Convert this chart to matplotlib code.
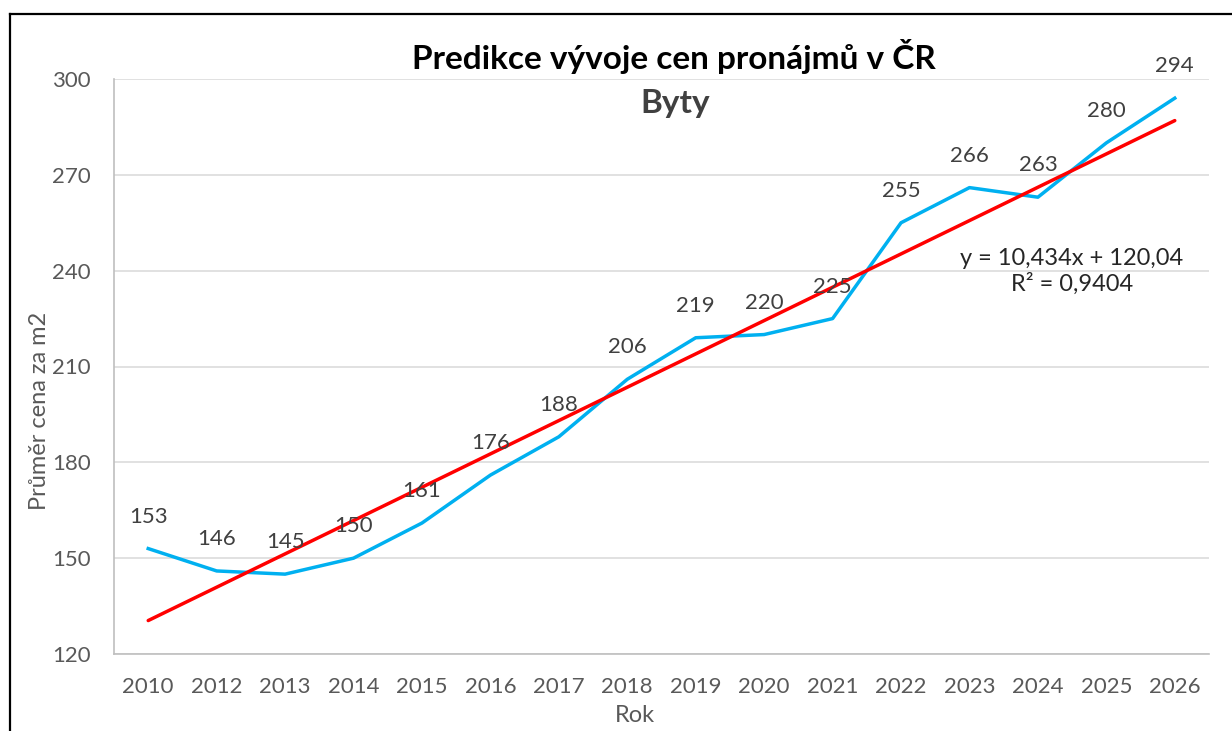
import matplotlib
matplotlib.use("Agg")
import matplotlib.pyplot as plt
from matplotlib.lines import Line2D

plt.rcParams['font.family'] = ['Lato', 'DejaVu Sans']

years = ['2010', '2012', '2013', '2014', '2015', '2016', '2017', '2018',
         '2019', '2020', '2021', '2022', '2023', '2024', '2025', '2026']
prices = [153, 146, 145, 150, 161, 176, 188, 206, 219, 220, 225, 255, 266, 263, 280, 294]
trend_years = ['2010', '2026']
trend_values = [130.47, 286.98]
yticks = [120, 150, 180, 210, 240, 270, 300]
equation_text = "y = 10,434x + 120,04\nR² = 0,9404"

W, H = 1232, 731
fig = plt.figure(figsize=(W / 100, H / 100), dpi=100)
ax = fig.add_axes([114 / W, 1 - 654 / H, (1209 - 114) / W, (654 - 79) / H])

x = list(range(len(years)))
ax.plot(x, prices, color='#00B0F0', lw=2.5, solid_joinstyle='round', zorder=3)
tx = [years.index(t) for t in trend_years]
ax.plot(tx, trend_values, color='#FF0000', lw=2.5, solid_capstyle='round', zorder=4)

for xi, v in zip(x, prices):
    ax.annotate(str(v), (xi, v), xytext=(0, 23), textcoords='offset points',
                ha='center', va='center', fontsize=16, color='#404040', zorder=5)

ax.set_xlim(-0.5, len(years) - 0.5)
ax.set_ylim(120, 300)
ax.set_yticks(yticks)
ax.set_xticks(x)
ax.set_xticklabels(years)
ax.tick_params(axis='both', length=0, labelsize=16, colors='#595959')
ax.tick_params(axis='y', pad=16.5)
ax.tick_params(axis='x', pad=16.5)
ax.grid(axis='y', color='#D9D9D9', lw=1.1)
ax.set_axisbelow(True)
for s in ['top', 'right']:
    ax.spines[s].set_visible(False)
for s in ['left', 'bottom']:
    ax.spines[s].set_color('#BFBFBF')
    ax.spines[s].set_linewidth(1.2)

fig.text(40 / W, 1 - 411 / H, 'Průměr cena za m2', rotation=90, ha='center', va='center',
         fontsize=17, color='#595959')
fig.text(635 / W, 1 - 716 / H, 'Rok', ha='center', va='center', fontsize=17, color='#595959')

fig.text(674 / W, 1 - 57 / H, 'Predikce vývoje cen pronájmů v ČR', ha='center', va='center',
         fontsize=24, fontweight='bold', color='black')
fig.text(675 / W, 1 - 103 / H, 'Byty', ha='center', va='center',
         fontsize=24, fontweight='bold', color='#404040')

fig.text(1072 / W, 1 - 271 / H, equation_text, ha='center', va='center', multialignment='center',
         fontsize=17, color='#262626', linespacing=1.2)

# chart border (partially visible)
fig.add_artist(Line2D([10 / W, 10 / W], [0, 1 - 14 / H], transform=fig.transFigure, color='black', lw=1.6))
fig.add_artist(Line2D([10 / W, 1], [1 - 14 / H, 1 - 14 / H], transform=fig.transFigure, color='black', lw=1.6))

fig.savefig('out.png', dpi=100)
